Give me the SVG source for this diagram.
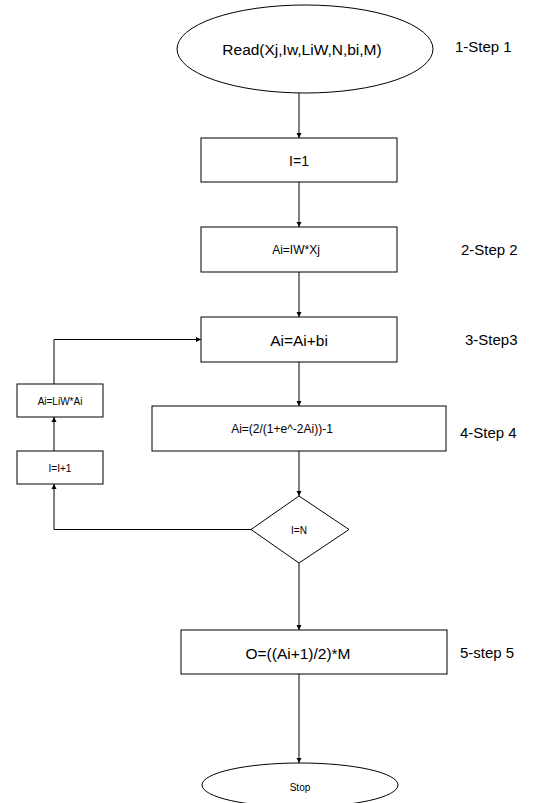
<svg xmlns="http://www.w3.org/2000/svg" width="540" height="803" viewBox="0 0 540 803">
  <style>
    .shape { fill: #ffffff; stroke: #000000; stroke-width: 1; }
    .edge { fill: none; stroke: #000000; stroke-width: 1; }
    text { font-family: "Liberation Sans", Arial, sans-serif; fill: #000000; text-anchor: middle; dominant-baseline: central; }
    .big { font-size: 15.5px; }
    .mid { font-size: 12px; }
    .small { font-size: 10px; }
    .note { font-size: 15px; text-anchor: start; }
  </style>
  <defs>
    <marker id="arrow" viewBox="0 0 10 10" refX="10" refY="5" markerWidth="5" markerHeight="7" orient="auto" markerUnits="userSpaceOnUse">
      <path d="M0,0 L10,5 L0,10 z" fill="#000000"/>
    </marker>
  </defs>

  <!-- connectors -->
  <g id="connectors">
    <line class="edge" x1="299" y1="93" x2="299" y2="138" marker-end="url(#arrow)"/>
    <line class="edge" x1="299" y1="182" x2="299" y2="227" marker-end="url(#arrow)"/>
    <line class="edge" x1="299" y1="272" x2="299" y2="317" marker-end="url(#arrow)"/>
    <line class="edge" x1="299" y1="362" x2="299" y2="406" marker-end="url(#arrow)"/>
    <line class="edge" x1="299" y1="451" x2="299" y2="496" marker-end="url(#arrow)"/>
    <line class="edge" x1="299" y1="563" x2="299" y2="630" marker-end="url(#arrow)"/>
    <line class="edge" x1="299" y1="674" x2="299" y2="763" marker-end="url(#arrow)"/>
    <!-- loop back: decision to counter, counter to weighting, weighting to bias -->
    <polyline class="edge" points="251,529.5 54,529.5 54,484" marker-end="url(#arrow)"/>
    <line class="edge" x1="54" y1="451" x2="54" y2="417" marker-end="url(#arrow)"/>
    <polyline class="edge" points="54,384 54,339.5 201,339.5" marker-end="url(#arrow)"/>
  </g>

  <!-- nodes -->
  <g id="read">
    <ellipse class="shape" cx="305" cy="49" rx="128" ry="44"/>
    <text class="big" x="302" y="49">Read(Xj,Iw,LiW,N,bi,M)</text>
  </g>
  <g id="init">
    <rect class="shape" x="201" y="138" width="196" height="44"/>
    <text class="big" x="299" y="161" style="font-size:14px">I=1</text>
  </g>
  <g id="input-weight">
    <rect class="shape" x="201" y="227" width="196" height="45"/>
    <text class="mid" x="296" y="250">Ai=IW*Xj</text>
  </g>
  <g id="bias">
    <rect class="shape" x="201" y="317" width="196" height="45"/>
    <text class="big" x="299" y="340">Ai=Ai+bi</text>
  </g>
  <g id="activation">
    <rect class="shape" x="152" y="406" width="294" height="45"/>
    <text class="mid" x="282" y="429">Ai=(2/(1+e^-2Ai))-1</text>
  </g>
  <g id="check">
    <polygon class="shape" points="299,496 349,529.5 299,563 251,529.5"/>
    <text class="small" x="299" y="530">I=N</text>
  </g>
  <g id="increment">
    <rect class="shape" x="17" y="451" width="86" height="33"/>
    <text class="small" x="60" y="468">I=I+1</text>
  </g>
  <g id="layer-weight">
    <rect class="shape" x="17" y="384" width="86" height="33"/>
    <text class="small" x="60" y="401">Ai=LiW*Ai</text>
  </g>
  <g id="output">
    <rect class="shape" x="181" y="630" width="266" height="44"/>
    <text class="big" x="298" y="653">O=((Ai+1)/2)*M</text>
  </g>
  <g id="stop">
    <ellipse class="shape" cx="300" cy="785" rx="98" ry="22"/>
    <text class="small" x="300" y="787">Stop</text>
  </g>

  <!-- step annotations -->
  <g id="steps">
    <text class="note" x="455" y="46">1-Step 1</text>
    <text class="note" x="461" y="249">2-Step 2</text>
    <text class="note" x="465" y="339">3-Step3</text>
    <text class="note" x="460" y="432">4-Step 4</text>
    <text class="note" x="460" y="652">5-step 5</text>
  </g>
</svg>
